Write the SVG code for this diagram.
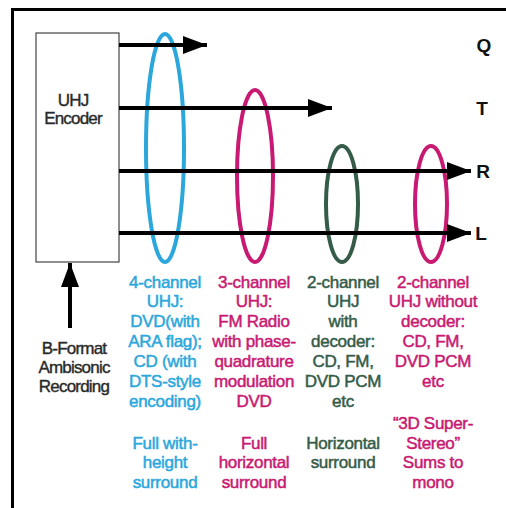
<svg xmlns="http://www.w3.org/2000/svg" width="506" height="508" viewBox="0 0 506 508">
<style>
text{font-family:"Liberation Sans",Arial,sans-serif;text-anchor:middle}
.col{font-size:17px;letter-spacing:-0.3px;stroke-width:0.5px}
.blue{fill:#2ba7dc;stroke:#2ba7dc}
.mag{fill:#c81a72;stroke:#c81a72}
.grn{fill:#355c48;stroke:#355c48}
.dark{fill:#2a2a2a;stroke:#2a2a2a;stroke-width:0.4px;letter-spacing:-0.8px}
.ring{fill:none;stroke-width:4}
.lbl{font-size:19px;font-weight:bold;fill:#111}
.wire{stroke:#000;stroke-width:4;fill:none}
</style>
<defs>
<marker id="ah" markerUnits="userSpaceOnUse" markerWidth="26" markerHeight="20" refX="24" refY="9" orient="auto">
<path d="M0,0 L24,9 L0,18 Z" fill="#000"/>
</marker>
</defs>
<rect width="506" height="508" fill="#fff"/>
<path d="M12.5,508 V9.5 H506" fill="none" stroke="#000" stroke-width="3"/>
<g id="encoder">
<rect x="36" y="33" width="83" height="229" fill="#fff" stroke="#444" stroke-width="1.2"/>
<text class="dark" x="73" y="106" font-size="17">UHJ</text>
<text class="dark" x="73" y="124" font-size="17">Encoder</text>
</g>
<g id="source">
<text class="dark" x="74" y="354" font-size="17">B-Format</text>
<text class="dark" x="74" y="373" font-size="17">Ambisonic</text>
<text class="dark" x="74" y="392" font-size="17">Recording</text>
</g>
<g id="ring4"><ellipse class="ring" cx="165" cy="148" rx="19" ry="114" stroke="#2ba7dc"/></g>
<g id="ring3"><ellipse class="ring" cx="255" cy="176" rx="18" ry="86" stroke="#c81a72"/></g>
<g id="ring2d"><ellipse class="ring" cx="342" cy="204" rx="16" ry="58" stroke="#355c48"/></g>
<g id="ring2"><ellipse class="ring" cx="431" cy="204" rx="16" ry="58" stroke="#c81a72"/></g>
<g id="connectors">
<line class="wire" x1="119" y1="45" x2="207" y2="45" marker-end="url(#ah)"/>
<line class="wire" x1="119" y1="108" x2="332" y2="108" marker-end="url(#ah)"/>
<line class="wire" x1="119" y1="171" x2="471" y2="171" marker-end="url(#ah)"/>
<line class="wire" x1="119" y1="233" x2="471" y2="233" marker-end="url(#ah)"/>
<line class="wire" x1="70" y1="328" x2="70" y2="263" marker-end="url(#ah)"/>
</g>
<g id="labels">
<text class="lbl" x="484" y="52">Q</text>
<text class="lbl" x="482" y="115">T</text>
<text class="lbl" x="483" y="178">R</text>
<text class="lbl" x="481" y="240">L</text>
</g>
<g id="col4" class="col blue">
<text x="165" y="288">4-channel</text>
<text x="165" y="307">UHJ:</text>
<text x="165" y="327">DVD(with</text>
<text x="165" y="347">ARA flag);</text>
<text x="165" y="367">CD (with</text>
<text x="165" y="387">DTS-style</text>
<text x="165" y="407">encoding)</text>
<text x="165" y="449">Full with-</text>
<text x="165" y="468">height</text>
<text x="165" y="488">surround</text>
</g>
<g id="col3" class="col mag">
<text x="254" y="288">3-channel</text>
<text x="254" y="307">UHJ:</text>
<text x="254" y="327">FM Radio</text>
<text x="254" y="347">with phase-</text>
<text x="254" y="367">quadrature</text>
<text x="254" y="387">modulation</text>
<text x="254" y="407">DVD</text>
<text x="254" y="449">Full</text>
<text x="254" y="468">horizontal</text>
<text x="254" y="488">surround</text>
</g>
<g id="col2d" class="col grn">
<text x="343" y="288">2-channel</text>
<text x="343" y="307">UHJ</text>
<text x="343" y="327">with</text>
<text x="343" y="347">decoder:</text>
<text x="343" y="367">CD, FM,</text>
<text x="343" y="387">DVD PCM</text>
<text x="343" y="407">etc</text>
<text x="343" y="449">Horizontal</text>
<text x="343" y="468">surround</text>
</g>
<g id="col2" class="col mag">
<text x="433" y="288">2-channel</text>
<text x="433" y="307">UHJ without</text>
<text x="433" y="327">decoder:</text>
<text x="433" y="347">CD, FM,</text>
<text x="433" y="367">DVD PCM</text>
<text x="433" y="387">etc</text>
<text x="433" y="429">“3D Super-</text>
<text x="433" y="449">Stereo”</text>
<text x="433" y="468">Sums to</text>
<text x="433" y="488">mono</text>
</g>
</svg>
